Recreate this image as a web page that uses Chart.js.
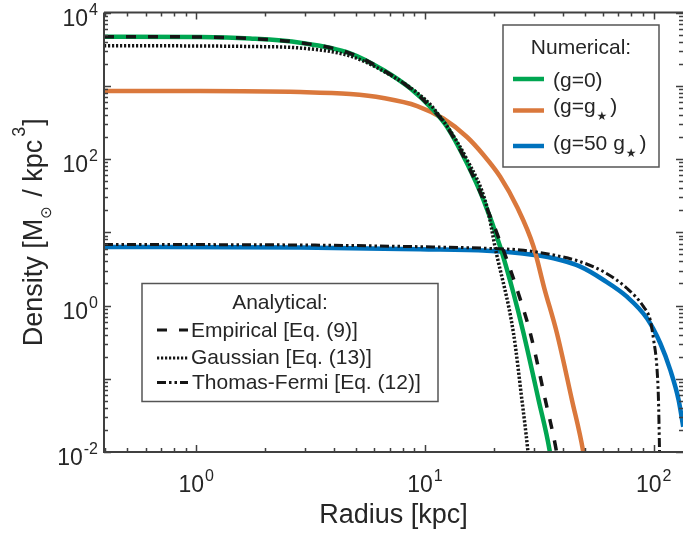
<!DOCTYPE html>
<html>
<head>
<meta charset="utf-8">
<script src="https://cdn.jsdelivr.net/npm/chart.js@4.4.1/dist/chart.umd.min.js"></script>
<style>
html,body{margin:0;padding:0;background:#fff;overflow:hidden}
#wrap{width:683px;height:536px;position:relative}
</style>
</head>
<body>
<div id="wrap"><canvas id="c" width="683" height="536"></canvas></div>
<script>
// ---------------- data ----------------
// Numerical (g=0)
const numG0R   = [0.395, 1.04, 1.72, 2.85, 4.71, 6.57, 8.62, 10.87, 12.48, 15.27, 18.04, 21.33, 24.39, 26.99, 31.4, 35.07, 35.3];
const numG0Rho = [4677, 4634, 4416, 3873, 2775, 1641, 922, 467, 276, 87.3, 27.5, 6.35, 1.47, 0.418, 0.0513, 0.0106, 0.0092];
// Numerical (g=g*)
const numG1R   = [0.395, 1.04, 2.85, 4.71, 6.57, 9.25, 12.02, 15.27, 18.04, 21.33, 25.25, 29.85, 33.24, 37.77, 43.93, 49.07, 49.4];
const numG1Rho = [848, 848, 822, 771, 680, 529, 357, 199.6, 113.4, 57.3, 22.3, 6.35, 1.73, 0.418, 0.0513, 0.0106, 0.0092];
// Numerical (g=50 g*)
const numG50R   = [0.395, 2.85, 9.53, 18.67, 26.1, 36.5, 47.8, 60.4, 76.4, 93.5, 106.9, 118.2, 128.6, 134.7];
const numG50Rho = [6.3, 6.2, 5.85, 5.6, 5.16, 4.41, 3.39, 2.23, 1.32, 0.668, 0.305, 0.132, 0.0513, 0.0221];
// Analytical: Empirical [Eq. (9)]
const empR   = [0.395, 1.04, 1.72, 2.85, 4.71, 6.57, 8.62, 10.87, 12.48, 15.27, 18.04, 22.0, 25.6, 28.9, 33.6, 37.5, 37.8];
const empRho = [4677, 4634, 4416, 3873, 2775, 1641, 922, 467, 276, 87.3, 27.5, 5.73, 1.47, 0.418, 0.0513, 0.0106, 0.009];
// Analytical: Gaussian [Eq. (13)]
const gauR   = [0.395, 1.04, 1.72, 2.85, 4.71, 6.57, 9.25, 10.87, 15.31, 18.67, 20.3, 24.39, 26.55, 28.1, 28.3];
const gauRho = [3524, 3491, 3436, 3273, 2546, 1589, 800, 498, 96.8, 22.3, 6.1, 0.418, 0.0513, 0.0114, 0.009];
// Analytical: Thomas-Fermi [Eq. (12)]
const tfR   = [0.395, 2.85, 9.53, 18.67, 26.1, 36.5, 47.8, 60.4, 76.4, 90.3, 96.6, 100.0, 103.3, 105.0, 106.1, 106.3];
const tfRho = [6.81, 6.7, 6.35, 6.04, 5.73, 4.89, 3.96, 2.89, 1.72, 0.964, 0.634, 0.338, 0.146, 0.0513, 0.0106, 0.008];

// ticks: labels are "10" with a superscript exponent
const xTickValues = [1, 10, 100];
const xTickExponents = ['0', '1', '2'];
const yTickValues = [0.01, 1, 100, 10000];
const yTickExponents = ['-2', '0', '2', '4'];
const xMin = 0.395, xMax = 134.4, yMin = 0.01, yMax = 10000;

// legend texts
const numLegendTitle = 'Numerical:';
const anaLegendTitle = 'Analytical:';
const anaLabels = ['Empirical [Eq. (9)]', 'Gaussian [Eq. (13)]', 'Thomas-Fermi [Eq. (12)]'];

// ---------------- styles ----------------
const FONT = "'Liberation Sans', Arial, Helvetica, sans-serif";
const SYM = "'DejaVu Sans', sans-serif";
const TEXT = '#262626';
const AXIS = '#404040';
const GREEN = '#00A651', ORANGE = '#DA783C', BLUE = '#0072BD', BLACK = '#151515';
const DASH_EMP = [10, 12], DASH_GAU = [2.2, 1.8], DASH_TF = [9, 3, 2.5, 3, 2.5, 3];

const pts = (r, rho) => r.map((v, i) => ({x: v, y: rho[i]}));
const ds = (label, data, color, width, dash) => ({
  label, data, borderColor: color, borderWidth: width, borderDash: dash, borderCapStyle: 'butt',
  pointRadius: 0, fill: false, cubicInterpolationMode: 'monotone', clip: 0
});

const datasets = [
  ds(anaLabels[0], pts(empR, empRho), BLACK, 3.5, DASH_EMP),
  ds(anaLabels[1], pts(gauR, gauRho), BLACK, 3.5, DASH_GAU),
  ds(anaLabels[2], pts(tfR, tfRho), BLACK, 3, DASH_TF),
  ds('(g=0)', pts(numG0R, numG0Rho), GREEN, 4.5, []),
  ds('(g=g*)', pts(numG1R, numG1Rho), ORANGE, 4.5, []),
  ds('(g=50 g*)', pts(numG50R, numG50Rho), BLUE, 4.5, [])
];

function drawRuns(ctx, x, y, runs) {
  let cx = x;
  for (const r of runs) {
    ctx.font = r.size + 'px ' + (r.family || FONT);
    ctx.fillText(r.t, cx, y + (r.dy || 0));
    cx += ctx.measureText(r.t).width + (r.after || 0);
  }
  return cx - x;
}
function runsWidth(ctx, runs) {
  let w = 0;
  for (const r of runs) { ctx.font = r.size + 'px ' + (r.family || FONT); w += ctx.measureText(r.t).width + (r.after || 0); }
  return w;
}
const powerRuns = e => [{t: '10', size: 23, after: 1}, {t: e, size: 16, dy: -11}];

const decor = {
  id: 'decor',
  afterDraw(chart) {
    const ctx = chart.ctx, a = chart.chartArea, xs = chart.scales.x, ys = chart.scales.y;
    ctx.save();
    // inward ticks on all four sides
    const logTicks = (min, max) => {
      const out = [];
      for (let e = Math.floor(Math.log10(min)); e <= Math.ceil(Math.log10(max)); e++)
        for (let m = 1; m < 10; m++) {
          const v = m * Math.pow(10, e);
          if (v >= min * 0.999 && v <= max * 1.001) out.push({v, major: m === 1});
        }
      return out;
    };
    ctx.strokeStyle = AXIS; ctx.lineWidth = 1.5;
    ctx.beginPath();
    for (const t of logTicks(xMin, xMax)) {
      const px = Math.round(xs.getPixelForValue(t.v)) + 0.5, L = t.major ? 7 : 4;
      ctx.moveTo(px, a.bottom); ctx.lineTo(px, a.bottom - L);
      ctx.moveTo(px, a.top); ctx.lineTo(px, a.top + L);
    }
    for (const t of logTicks(yMin, yMax)) {
      const py = Math.round(ys.getPixelForValue(t.v)) + 0.5, L = t.major ? 7 : 4;
      ctx.moveTo(a.left, py); ctx.lineTo(a.left + L, py);
      ctx.moveTo(a.right, py); ctx.lineTo(a.right - L, py);
    }
    ctx.stroke();
    // frame
    ctx.lineWidth = 2;
    ctx.beginPath();
    ctx.moveTo(a.left, a.top); ctx.lineTo(a.left, a.bottom); ctx.lineTo(a.right + 2, a.bottom);
    ctx.moveTo(a.left, a.top); ctx.lineTo(a.right + 2, a.top);
    ctx.stroke();

    // tick labels
    ctx.fillStyle = TEXT; ctx.textBaseline = 'alphabetic'; ctx.textAlign = 'left';
    xTickValues.forEach((v, i) => {
      const runs = powerRuns(xTickExponents[i]);
      const w = runsWidth(ctx, runs);
      drawRuns(ctx, xs.getPixelForValue(v) - w / 2, a.bottom + 40, runs);
    });
    yTickValues.forEach((v, i) => {
      const runs = powerRuns(yTickExponents[i]);
      const w = runsWidth(ctx, runs);
      drawRuns(ctx, a.left - 6 - w, ys.getPixelForValue(v) + 13, runs);
    });

    // y axis title with sub/superscripts
    const yt = [
      {t: 'Density [M', size: 27},
      {t: '\u2299', size: 15, dy: 9, family: SYM, after: 2},
      {t: ' / kpc', size: 27, after: 3},
      {t: '3', size: 18, dy: -17, after: 1},
      {t: ']', size: 27}
    ];
    ctx.save();
    ctx.translate(41.5, (a.top + a.bottom) / 2);
    ctx.rotate(-Math.PI / 2);
    const w = runsWidth(ctx, yt);
    drawRuns(ctx, -w / 2, 0, yt);
    ctx.restore();

    // Numerical legend
    ctx.fillStyle = '#fff'; ctx.strokeStyle = '#555'; ctx.lineWidth = 1.5;
    ctx.fillRect(503, 25, 156, 142); ctx.strokeRect(503, 25, 156, 142);
    ctx.fillStyle = TEXT; ctx.font = '21px ' + FONT; ctx.textAlign = 'center';
    ctx.fillText(numLegendTitle, 581, 54);
    ctx.textAlign = 'left';
    const star = {t: '\u2605', size: 12, dy: 7, family: SYM, after: 3};
    const numEntries = [
      {c: GREEN, ly: 79, by: 87, runs: [{t: '(g=0)', size: 21}]},
      {c: ORANGE, ly: 110.5, by: 113, runs: [{t: '(g=g', size: 21, after: 1}, star, {t: ')', size: 21}]},
      {c: BLUE, ly: 146, by: 150, runs: [{t: '(g=50 g', size: 21, after: 1}, star, {t: ')', size: 21}]}
    ];
    for (const e of numEntries) {
      ctx.strokeStyle = e.c; ctx.lineWidth = 4.5; ctx.setLineDash([]);
      ctx.beginPath(); ctx.moveTo(513, e.ly); ctx.lineTo(544, e.ly); ctx.stroke();
      ctx.fillStyle = TEXT;
      drawRuns(ctx, 553, e.by, e.runs);
    }

    // Analytical legend
    ctx.fillStyle = '#fff'; ctx.strokeStyle = '#555'; ctx.lineWidth = 1.5;
    ctx.fillRect(142, 283.5, 296, 118); ctx.strokeRect(142, 283.5, 296, 118);
    ctx.fillStyle = TEXT; ctx.font = '21px ' + FONT; ctx.textAlign = 'center';
    ctx.fillText(anaLegendTitle, 280, 309);
    ctx.textAlign = 'left';
    const anaEntries = [
      {dash: DASH_EMP, ly: 330, by: 337, tx: 191},
      {dash: DASH_GAU, ly: 358, by: 364, tx: 191},
      {dash: DASH_TF, ly: 382.5, by: 388.5, tx: 192}
    ];
    anaEntries.forEach((e, i) => {
      ctx.strokeStyle = BLACK; ctx.lineWidth = 3; ctx.setLineDash(e.dash);
      ctx.beginPath(); ctx.moveTo(157, e.ly); ctx.lineTo(188, e.ly); ctx.stroke();
      ctx.setLineDash([]);
      ctx.fillStyle = TEXT; ctx.font = '21px ' + FONT;
      ctx.fillText(anaLabels[i], e.tx, e.by);
    });
    ctx.restore();
  }
};

new Chart(document.getElementById('c'), {
  type: 'line',
  data: {datasets},
  plugins: [decor],
  options: {
    responsive: false, animation: false, devicePixelRatio: 1,
    layout: {padding: {top: 12.5, right: 0, bottom: 0, left: 0}},
    plugins: {legend: {display: false}, tooltip: {enabled: false}},
    scales: {
      x: {
        type: 'logarithmic', position: 'bottom', min: xMin, max: xMax,
        grid: {display: false, drawTicks: false}, border: {display: false},
        afterBuildTicks: s => { s.ticks = xTickValues.map(v => ({value: v})); },
        ticks: {display: false},
        title: {display: true, text: 'Radius [kpc]', color: TEXT, font: {family: FONT, size: 27},
                padding: {top: 0, bottom: 4}},
        afterFit: s => { s.height = 84; s.paddingLeft = 0; s.paddingRight = 0; }
      },
      y: {
        type: 'logarithmic', position: 'left', min: yMin, max: yMax,
        grid: {display: false, drawTicks: false}, border: {display: false},
        afterBuildTicks: s => { s.ticks = yTickValues.map(v => ({value: v})); },
        ticks: {display: false},
        title: {display: false},
        afterFit: s => { s.width = 104; s.paddingTop = 0; s.paddingBottom = 0; }
      }
    }
  }
});
</script>
</body>
</html>
